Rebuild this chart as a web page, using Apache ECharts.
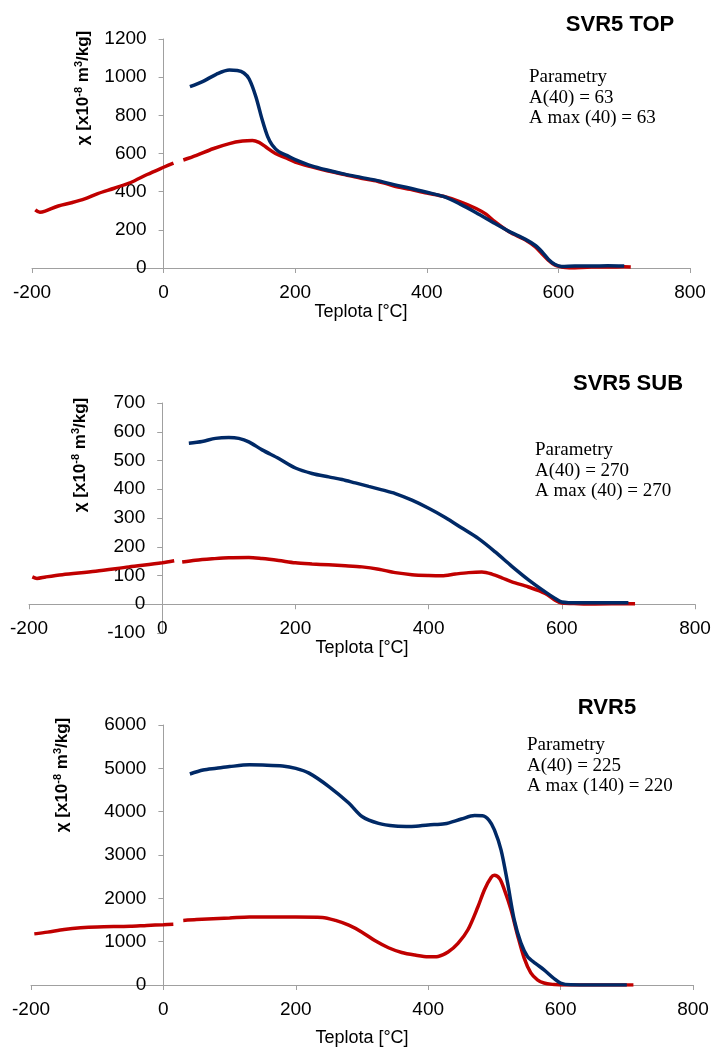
<!DOCTYPE html>
<html>
<head>
<meta charset="utf-8">
<script src="https://cdn.jsdelivr.net/npm/echarts@6/dist/echarts.min.js"></script>
<style>
  html, body { margin: 0; padding: 0; background: #fff; }
  #main { width: 714px; height: 1048px; }
</style>
</head>
<body>
<div id="main"></div>
<script>
// teplota [°C], susceptibilita [x10-8 m3/kg]
var xTicks = [-200, 0, 200, 400, 600, 800];

// SVR5 TOP
var topRedLow = [[-195,305],[-188,292],[-180,298],[-160,325],[-140,342],[-120,362],[-100,390],[-75,418],[-50,448],[-25,490],[0,528],[15,550]];
var topRed = [[30,566],[50,590],[75,625],[100,652],[120,665],[135,668],[145,658],[155,635],[170,600],[185,578],[200,555],[225,530],[250,508],[275,490],[300,470],[325,455],[350,430],[375,412],[400,393],[425,376],[450,348],[475,312],[490,282],[500,252],[525,190],[550,147],[565,110],[575,75],[585,40],[595,15],[610,3],[625,0],[650,5],[675,5],[700,6],[710,5]];
var topBlue = [[40,950],[60,978],[80,1015],[100,1037],[112,1035],[122,1022],[130,990],[140,900],[150,775],[158,690],[165,645],[175,610],[190,585],[200,568],[225,535],[250,512],[275,492],[300,475],[325,458],[350,437],[375,418],[400,397],[425,375],[450,336],[475,290],[500,240],[525,192],[550,150],[565,118],[575,85],[585,45],[595,18],[605,8],[625,10],[650,10],[675,12],[700,10]];

// SVR5 SUB
var subRedLow = [[-195,95],[-188,90],[-175,95],[-150,103],[-100,115],[-50,130],[0,144],[18,151]];
var subRed = [[30,147],[50,153],[75,158],[100,162],[130,163],[150,159],[175,152],[200,144],[225,140],[250,137],[275,134],[300,130],[325,122],[350,110],[375,103],[400,100],[420,99],[440,105],[460,110],[480,112],[495,105],[510,92],[525,78],[550,60],[575,38],[590,14],[600,4],[625,2],[650,1],[700,2],[710,2]];
var subBlue = [[40,560],[60,566],[80,577],[100,580],[115,577],[130,565],[150,537],[175,507],[200,474],[225,455],[250,443],[270,434],[290,422],[310,410],[330,398],[350,385],[375,362],[400,334],[425,302],[450,265],[475,228],[500,182],[525,132],[550,85],[575,43],[590,20],[600,8],[625,5],[650,5],[700,5]];

// RVR5
var rvrRedLow = [[-195,1180],[-175,1220],[-150,1280],[-125,1320],[-100,1340],[-50,1355],[-25,1375],[0,1390],[15,1400]];
var rvrRed = [[30,1490],[50,1510],[100,1545],[130,1570],[200,1570],[240,1560],[260,1490],[280,1380],[300,1220],[320,1020],[340,860],[360,750],[380,690],[400,650],[415,660],[430,760],[445,960],[460,1275],[475,1800],[485,2200],[495,2480],[500,2530],[508,2450],[515,2200],[525,1740],[535,1150],[545,620],[555,280],[565,120],[575,45],[590,10],[600,0],[650,0],[710,0]];
var rvrBlue = [[40,4870],[60,4960],[80,5000],[100,5040],[130,5080],[150,5075],[180,5055],[200,5000],[220,4890],[250,4580],[280,4200],[300,3890],[325,3730],[350,3670],[375,3660],[400,3695],[425,3720],[450,3830],[470,3910],[482,3905],[492,3800],[500,3580],[510,3120],[520,2350],[530,1500],[540,970],[550,660],[562,500],[575,350],[590,150],[600,45],[615,5],[650,0],[700,0]];

var titles = ['SVR5 TOP', 'SVR5 SUB', 'RVR5'];
var notes = [
  ['Parametry', 'A(40) = 63', 'A max (40) = 63'],
  ['Parametry', 'A(40) = 270', 'A max (40) = 270'],
  ['Parametry', 'A(40) = 225', 'A max (140) = 220']
];
var yRanges = [[0, 1200, 200], [-100, 700, 100], [0, 6000, 1000]];

var RED = '#c00000';
var BLUE = '#002966';
var AXIS = '#a0a0a0';
var SANS = 'Liberation Sans, Arial, sans-serif';

var grids = [
  { left: 32, right: 24, top: 39, height: 229, outerBoundsMode: 'none' },
  { left: 29, right: 19, top: 403, height: 230, outerBoundsMode: 'none' },
  { left: 31, right: 21, top: 725, height: 260, outerBoundsMode: 'none' }
];
var plotW = [658, 666, 662];
var nameGaps = [35, 34, 44];
// posun osy x na nulu (graf SUB ma min -100)
var xOffsets = [0, -230 / 8, 0];

var xAxes = [], yAxes = [];
for (var i = 0; i < 3; i++) {
  xAxes.push({
    type: 'value', gridIndex: i, min: -200, max: 800, interval: 200,
    offset: xOffsets[i],
    name: 'Teplota [°C]', nameLocation: 'middle', nameGap: nameGaps[i],
    nameTextStyle: { fontFamily: SANS, fontSize: 18, color: '#000' },
    axisLine: { show: true, onZero: false, lineStyle: { color: AXIS, width: 1 } },
    axisTick: { show: true, length: 5, lineStyle: { color: AXIS } },
    axisLabel: { fontFamily: SANS, fontSize: 19, color: '#000', margin: 15, formatter: function (v) { return String(v); } },
    splitLine: { show: false }
  });
  yAxes.push({
    type: 'value', gridIndex: i, min: yRanges[i][0], max: yRanges[i][1], interval: yRanges[i][2],
    offset: -plotW[i] * 0.2,
    axisLine: { show: true, onZero: false, lineStyle: { color: AXIS, width: 1 } },
    axisTick: { show: true, length: 5, lineStyle: { color: AXIS } },
    axisLabel: { fontFamily: SANS, fontSize: 19, color: '#000', margin: 17, formatter: function (v) { return String(v); } },
    splitLine: { show: false }
  });
}

function line(data, idx, color) {
  return {
    type: 'line', xAxisIndex: idx, yAxisIndex: idx, data: data,
    showSymbol: false, smooth: 0.3, silent: true,
    lineStyle: { color: color, width: 3.5 }
  };
}

var series = [
  line(topRedLow, 0, RED), line(topRed, 0, RED), line(topBlue, 0, BLUE),
  line(subRedLow, 1, RED), line(subRed, 1, RED), line(subBlue, 1, BLUE),
  line(rvrRedLow, 2, RED), line(rvrRed, 2, RED), line(rvrBlue, 2, BLUE)
];

var titlePos = [[620, 25], [628, 384], [607, 708]];
var notePos = [[529, 67], [535, 440], [527, 735]];
var yNamePos = [[83, 88], [80, 455], [62, 775]];

var graphics = [];
for (var k = 0; k < 3; k++) {
  graphics.push({
    type: 'text', x: titlePos[k][0], y: titlePos[k][1],
    style: { text: titles[k], fontFamily: SANS, fontSize: 22, fontWeight: 'bold', fill: '#000', align: 'center', verticalAlign: 'middle' }
  });
  graphics.push({
    type: 'text', x: notePos[k][0], y: notePos[k][1],
    style: { text: notes[k].join('\n'), fontFamily: 'Liberation Serif, serif', fontSize: 19, lineHeight: 20.5, fill: '#000', align: 'left', verticalAlign: 'top' }
  });
  graphics.push({
    type: 'text', x: yNamePos[k][0], y: yNamePos[k][1], rotation: Math.PI / 2,
    style: {
      text: '{b|χ [x10}{s|-8}{b| m}{s|3}{b|/kg]}',
      align: 'center', verticalAlign: 'middle',
      rich: {
        b: { fontFamily: SANS, fontSize: 17, fontWeight: 'bold', fill: '#000', lineHeight: 20 },
        s: { fontFamily: SANS, fontSize: 11, fontWeight: 'bold', fill: '#000', lineHeight: 20, verticalAlign: 'top' }
      }
    }
  });
}

var myChart = echarts.init(document.getElementById('main'));
myChart.setOption({
  animation: false,
  backgroundColor: '#fff',
  grid: grids,
  xAxis: xAxes,
  yAxis: yAxes,
  series: series,
  graphic: graphics
});
</script>
</body>
</html>
